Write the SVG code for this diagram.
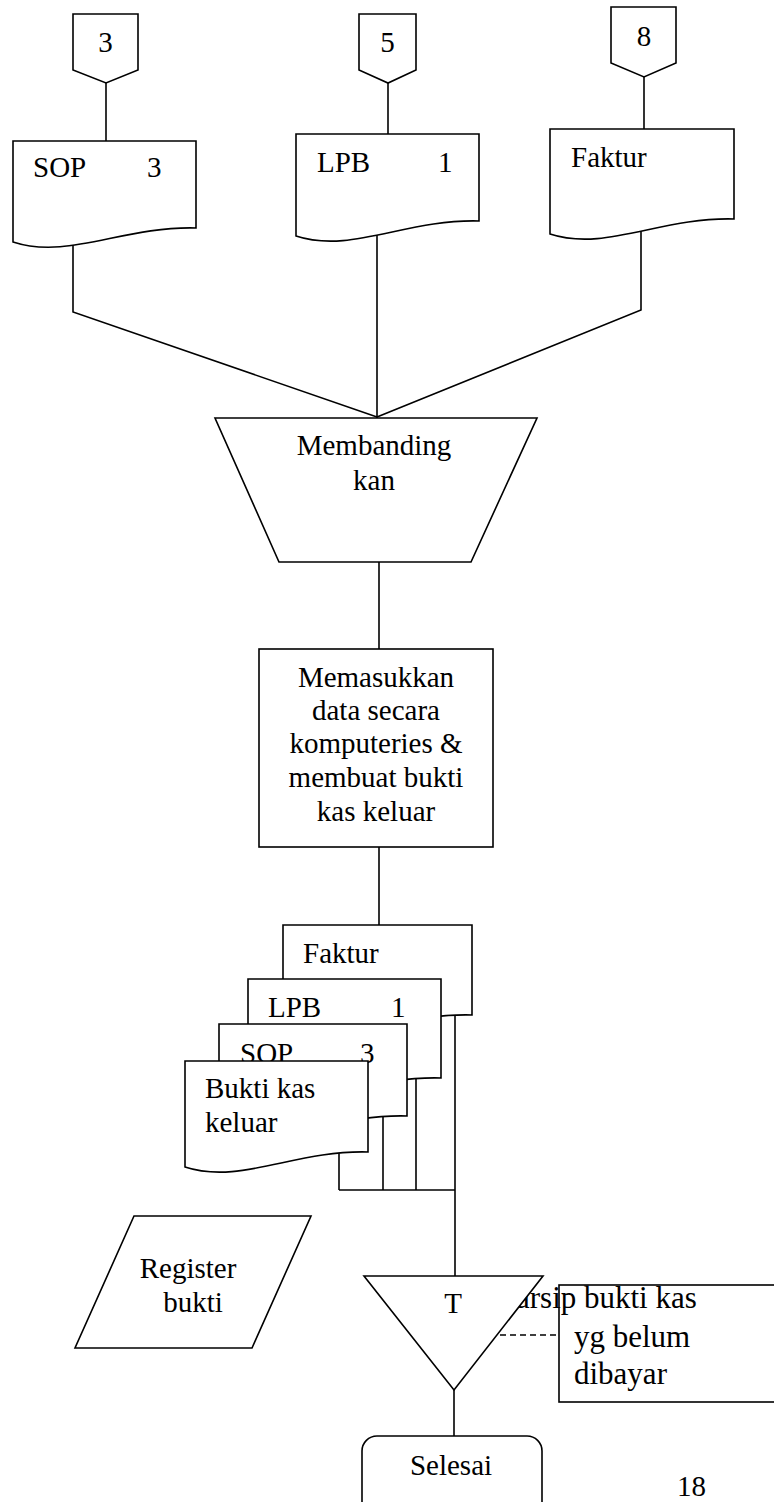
<svg xmlns="http://www.w3.org/2000/svg" width="774" height="1502" viewBox="0 0 774 1502">
  <style>
    .shape { fill: #fff; stroke: #000; stroke-width: 1.6; stroke-linejoin: miter; }
    .line { fill: none; stroke: #000; stroke-width: 1.6; }
    .dash { fill: none; stroke: #000; stroke-width: 1.4; stroke-dasharray: 6 4; }
    text { font-family: "Liberation Serif", "Times New Roman", serif; font-size: 29px; fill: #000; }
    .mid { text-anchor: middle; }
    .big { font-size: 31px; }
  </style>
  <rect width="774" height="1502" fill="#fff"/>

  <!-- connectors (drawn first so the white-filled shapes sit on top) -->
  <g id="connectors">
    <line class="line" x1="106" y1="83" x2="106" y2="141"/>
    <line class="line" x1="388" y1="83" x2="388" y2="134"/>
    <line class="line" x1="644" y1="77" x2="644" y2="129"/>
    <polyline class="line" points="73,235 73,312 377,417"/>
    <line class="line" x1="377" y1="230" x2="377" y2="418"/>
    <polyline class="line" points="641,228 641,310 377,417"/>
    <line class="line" x1="379" y1="562" x2="379" y2="649"/>
    <line class="line" x1="379" y1="847" x2="379" y2="925"/>
    <line class="line" x1="455" y1="1010" x2="455" y2="1276"/>
    <line class="line" x1="416" y1="1070" x2="416" y2="1190"/>
    <line class="line" x1="383" y1="1108" x2="383" y2="1190"/>
    <line class="line" x1="339" y1="1148" x2="339" y2="1190"/>
    <line class="line" x1="339" y1="1190" x2="455" y2="1190"/>
    <line class="line" x1="454" y1="1390" x2="454" y2="1436"/>
    <line class="dash" x1="500" y1="1335" x2="559" y2="1335"/>
  </g>

  <!-- off-page connectors -->
  <g id="offpage-3">
    <path class="shape" d="M73,14 H138 V70 L106,83 L73,70 Z"/>
    <text class="mid" x="105.5" y="52">3</text>
  </g>
  <g id="offpage-5">
    <path class="shape" d="M359,14 H416 V70 L388,83 L359,70 Z"/>
    <text class="mid" x="387.5" y="52">5</text>
  </g>
  <g id="offpage-8">
    <path class="shape" d="M611,7 H676 V63 L644,77 L611,63 Z"/>
    <text class="mid" x="644" y="46">8</text>
  </g>

  <!-- input documents -->
  <g id="doc-sop">
    <path class="shape" d="M13,141 H196 V228 C122.8,226 67.9,260 13,242 Z"/>
    <text x="33" y="177">SOP</text>
    <text x="147" y="177">3</text>
  </g>
  <g id="doc-lpb">
    <path class="shape" d="M296,134 H479 V221 C405.8,219 350.9,254 296,236 Z"/>
    <text x="317" y="172">LPB</text>
    <text x="438" y="172">1</text>
  </g>
  <g id="doc-faktur">
    <path class="shape" d="M550,129 H734 V219 C660.4,217 605.2,252 550,234 Z"/>
    <text x="571" y="167">Faktur</text>
  </g>

  <!-- compare step -->
  <g id="membandingkan">
    <path class="shape" d="M215,418 H537 L471,562 H279 Z"/>
    <text class="mid" x="374" y="455">Membanding</text>
    <text class="mid" x="374" y="490">kan</text>
  </g>

  <!-- data entry step -->
  <g id="memasukkan">
    <rect class="shape" x="259" y="649" width="234" height="198"/>
    <text class="mid" x="376" y="687">Memasukkan</text>
    <text class="mid" x="376" y="720">data secara</text>
    <text class="mid" x="376" y="753">komputeries &amp;</text>
    <text class="mid" x="376" y="787">membuat bukti</text>
    <text class="mid" x="376" y="821">kas keluar</text>
  </g>

  <!-- output document stack, back to front -->
  <g id="stack-faktur">
    <path class="shape" d="M283,925 H472 V1015 C396.4,1013 339.7,1047 283,1029 Z"/>
    <text x="303" y="963">Faktur</text>
  </g>
  <g id="stack-lpb">
    <path class="shape" d="M248,979 H441 V1078 C363.8,1076 305.9,1110 248,1092 Z"/>
    <text x="268" y="1017">LPB</text>
    <text x="391" y="1017">1</text>
  </g>
  <g id="stack-sop">
    <path class="shape" d="M219,1024 H407 V1116 C331.8,1114 275.4,1148 219,1130 Z"/>
    <text x="240" y="1063">SOP</text>
    <text x="360" y="1063">3</text>
  </g>
  <g id="stack-bukti">
    <path class="shape" d="M185,1061 H368 V1152 C294.8,1150 239.9,1185 185,1167 Z"/>
    <text x="205" y="1098">Bukti kas</text>
    <text x="205" y="1132">keluar</text>
  </g>

  <!-- register -->
  <g id="register">
    <path class="shape" d="M134,1216 H311 L252,1348 H75 Z"/>
    <text class="mid" x="188" y="1278">Register</text>
    <text class="mid" x="193" y="1312">bukti</text>
  </g>

  <!-- annotation -->
  <g id="arsip-note">
    <rect class="shape" x="559" y="1285" width="240" height="117"/>
    <text class="big" x="516" y="1308">arsip bukti kas</text>
    <text class="big" x="574" y="1347">yg belum</text>
    <text class="big" x="574" y="1384">dibayar</text>
  </g>

  <!-- temporary file -->
  <g id="arsip-t">
    <path class="shape" d="M364,1276 H543 L454,1390 Z"/>
    <text class="mid" x="453" y="1313">T</text>
  </g>

  <!-- terminator -->
  <g id="selesai">
    <rect class="shape" x="362" y="1436" width="180" height="90" rx="15" ry="15"/>
    <text class="mid" x="451" y="1475">Selesai</text>
  </g>

  <text id="page-number" x="677" y="1496">18</text>
</svg>
